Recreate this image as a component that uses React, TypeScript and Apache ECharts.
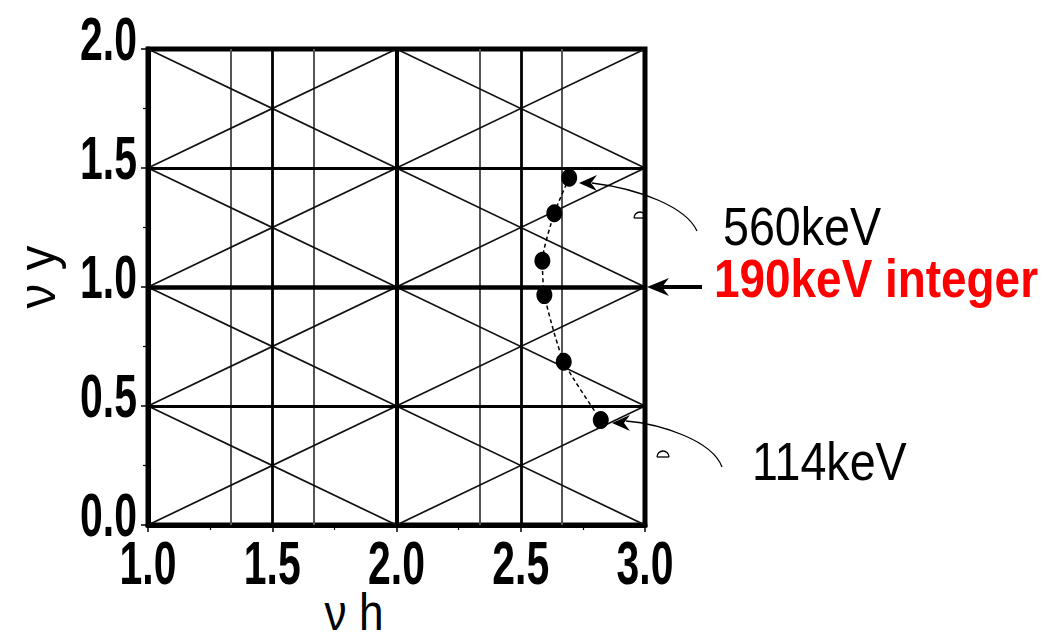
import React, { useEffect, useRef } from "react";
import * as echarts from "echarts";

// measured tune points (νh, νy) from 560 keV (top) down to 114 keV (bottom)
const nuH = [2.695, 2.635, 2.587, 2.595, 2.673, 2.822];
const nuY = [1.459, 1.31, 1.11, 0.966, 0.686, 0.441];

// axis ranges and ticks
const xRange = [1.0, 3.0];
const yRange = [0.0, 2.0];
const tickStep = 0.5;
const xTicks = [1.0, 1.5, 2.0, 2.5, 3.0];
const yTicks = [0.0, 0.5, 1.0, 1.5, 2.0];

// resonance line orders: νh + 2νy = n and νh − 2νy = n
const sumOrders = [2, 3, 4, 5, 6];
const diffOrders = [-2, -1, 0, 1, 2];

// vertical / horizontal resonance lines
const thirdLinesH = [4 / 3, 5 / 3, 7 / 3, 8 / 3];
const halfLinesH = [1.5, 2.5];
const intLinesH = [2.0];
const halfLinesY = [0.5, 1.5];
const intLinesY = [1.0];

// annotation texts
const labelTop = "560keV";
const labelInteger = "190keV integer";
const labelBottom = "114keV";
const xTitle = "ν h";
const yTitle = "ν y";

const FONT = '"Liberation Sans", Arial, sans-serif';

function clipSum(n: number): number[][] {
  const xa = Math.max(xRange[0], n - 2 * yRange[1]);
  const xb = Math.min(xRange[1], n - 2 * yRange[0]);
  return [[xa, (n - xa) / 2], [xb, (n - xb) / 2]];
}
function clipDiff(n: number): number[][] {
  const xa = Math.max(xRange[0], n + 2 * yRange[0]);
  const xb = Math.min(xRange[1], n + 2 * yRange[1]);
  return [[xa, (xa - n) / 2], [xb, (xb - n) / 2]];
}
const vSeg = (x: number) => [[x, yRange[0]], [x, yRange[1]]];
const hSeg = (y: number) => [[xRange[0], y], [xRange[1], y]];

function linesSeries(name: string, segs: number[][][], color: string, width: number, z: number) {
  return {
    name,
    type: "lines",
    coordinateSystem: "cartesian2d",
    silent: true,
    z,
    lineStyle: { color, width, opacity: 1, curveness: 0 },
    data: segs.map((c) => ({ coords: c })),
  };
}

export default function App() {
  const ref = useRef<HTMLDivElement>(null);
  useEffect(() => {
    if (!ref.current) return;
    const chart = echarts.init(ref.current, undefined, { renderer: "svg" });
    const diagSegs = [...sumOrders.map(clipSum), ...diffOrders.map(clipDiff)];
    const axisCommon = {
      type: "value",
      interval: tickStep,
      axisLine: { show: true, lineStyle: { color: "#000", width: 5 } },
      axisTick: { show: true, length: 7, lineStyle: { color: "#000", width: 1.5 } },
      minorTick: { show: true, splitNumber: 2, length: 5, lineStyle: { color: "#000", width: 1.2 } },
      splitLine: { show: false },
      axisLabel: { show: false },
    };
    const option: any = {
      animation: false,
      backgroundColor: "#fff",
      grid: {
        left: 148,
        top: 49,
        right: 412,
        bottom: 116,
        show: true,
        borderColor: "#000",
        borderWidth: 5,
        containLabel: false,
      },
      xAxis: { ...axisCommon, min: xRange[0], max: xRange[1] },
      yAxis: { ...axisCommon, min: yRange[0], max: yRange[1] },
      series: [
        linesSeries("third", thirdLinesH.map(vSeg), "#555", 2, 1),
        linesSeries("diag", diagSegs, "#111", 1.7, 2),
        linesSeries("halfH", halfLinesH.map(vSeg), "#000", 2.8, 3),
        linesSeries("halfY", halfLinesY.map(hSeg), "#000", 2.8, 3),
        linesSeries("intH", intLinesH.map(vSeg), "#000", 4, 3),
        linesSeries("intY", intLinesY.map(hSeg), "#000", 4.5, 3),
        {
          name: "tune",
          type: "line",
          data: nuH.map((x, i) => [x, nuY[i]]),
          smooth: 0.2,
          symbol: "circle",
          symbolSize: [16, 18],
          showSymbol: true,
          itemStyle: { color: "#000" },
          lineStyle: { color: "#000", width: 1.5, type: [4, 3] },
          z: 5,
          silent: true,
        },
      ],
    };
    chart.setOption(option);

    const toPx = (x: number, y: number) => chart.convertToPixel({ gridIndex: 0 }, [x, y]) as number[];
    const tickFont = `bold 62px ${FONT}`;
    const tickLabels: any[] = [];
    xTicks.forEach((v) => {
      const [px, py] = toPx(v, yRange[0]);
      tickLabels.push({
        type: "text",
        x: px,
        y: py + 37,
        scaleX: 0.66,
        style: { text: v.toFixed(1), fill: "#000", font: tickFont, align: "center", verticalAlign: "middle" },
      });
    });
    yTicks.forEach((v) => {
      const [px, py] = toPx(xRange[0], v);
      tickLabels.push({
        type: "text",
        x: px - 11,
        y: py - 11,
        scaleX: 0.66,
        style: { text: v.toFixed(1), fill: "#000", font: tickFont, align: "right", verticalAlign: "middle" },
      });
    });

    const graphic: any[] = [
      ...tickLabels,
      // axis titles
      {
        type: "text",
        x: 37,
        y: 277,
        rotation: Math.PI / 2,
        scaleX: 0.95,
        style: { text: yTitle, fill: "#000", font: `52px ${FONT}`, align: "center", verticalAlign: "middle" },
      },
      {
        type: "text",
        x: 354,
        y: 612,
        scaleX: 0.85,
        style: { text: xTitle, fill: "#000", font: `52px ${FONT}`, align: "center", verticalAlign: "middle" },
      },
      // annotation labels
      {
        type: "text",
        x: 723,
        y: 227,
        scaleX: 0.88,
        style: { text: labelTop, fill: "#000", font: `53px ${FONT}`, verticalAlign: "middle" },
      },
      {
        type: "text",
        x: 714,
        y: 279,
        scaleX: 0.85,
        style: { text: labelInteger, fill: "#ff0000", font: `bold 54px ${FONT}`, verticalAlign: "middle" },
      },
      {
        type: "text",
        x: 752,
        y: 462,
        scaleX: 0.88,
        style: { text: labelBottom, fill: "#000", font: `53px ${FONT}`, verticalAlign: "middle" },
      },
      // integer arrow
      {
        type: "line",
        shape: { x1: 702, y1: 287, x2: 660, y2: 287 },
        style: { stroke: "#000", lineWidth: 4 },
        z: 10,
      },
      {
        type: "polygon",
        shape: { points: [[647, 287], [669, 278], [662, 287], [669, 296]] },
        style: { fill: "#000" },
        z: 10,
      },
      // 560 keV curved arrow
      {
        type: "bezierCurve",
        shape: { x1: 697, y1: 231, cpx1: 686, cpy1: 207, cpx2: 640, cpy2: 189, x2: 592, y2: 183 },
        style: { stroke: "#000", lineWidth: 1.3, fill: null },
        z: 10,
      },
      {
        type: "polygon",
        shape: { points: [[579, 183], [597, 175], [591, 183], [597, 191]] },
        style: { fill: "#000" },
        z: 10,
      },
      {
        type: "arc",
        shape: { cx: 640, cy: 218, r: 6, startAngle: Math.PI, endAngle: 2 * Math.PI },
        style: { stroke: "#000", lineWidth: 1.3, fill: null },
        z: 10,
      },
      {
        type: "line",
        shape: { x1: 634, y1: 218, x2: 646, y2: 218 },
        style: { stroke: "#000", lineWidth: 1.3 },
        z: 10,
      },
      // 114 keV curved arrow
      {
        type: "bezierCurve",
        shape: { x1: 722, y1: 467, cpx1: 712, cpy1: 440, cpx2: 660, cpy2: 424, x2: 626, y2: 421 },
        style: { stroke: "#000", lineWidth: 1.3, fill: null },
        z: 10,
      },
      {
        type: "polygon",
        shape: { points: [[612, 423], [630, 415], [624, 423], [630, 431]] },
        style: { fill: "#000" },
        z: 10,
      },
      {
        type: "arc",
        shape: { cx: 663, cy: 457, r: 6, startAngle: Math.PI, endAngle: 2 * Math.PI },
        style: { stroke: "#000", lineWidth: 1.3, fill: null },
        z: 10,
      },
      {
        type: "line",
        shape: { x1: 657, y1: 457, x2: 669, y2: 457 },
        style: { stroke: "#000", lineWidth: 1.3 },
        z: 10,
      },
    ];
    chart.setOption({ graphic });
    return () => chart.dispose();
  }, []);
  return (
    <div
      ref={ref}
      style={{ position: "fixed", left: 0, top: 0, width: 1057, height: 641, background: "#fff" }}
    />
  );
}
